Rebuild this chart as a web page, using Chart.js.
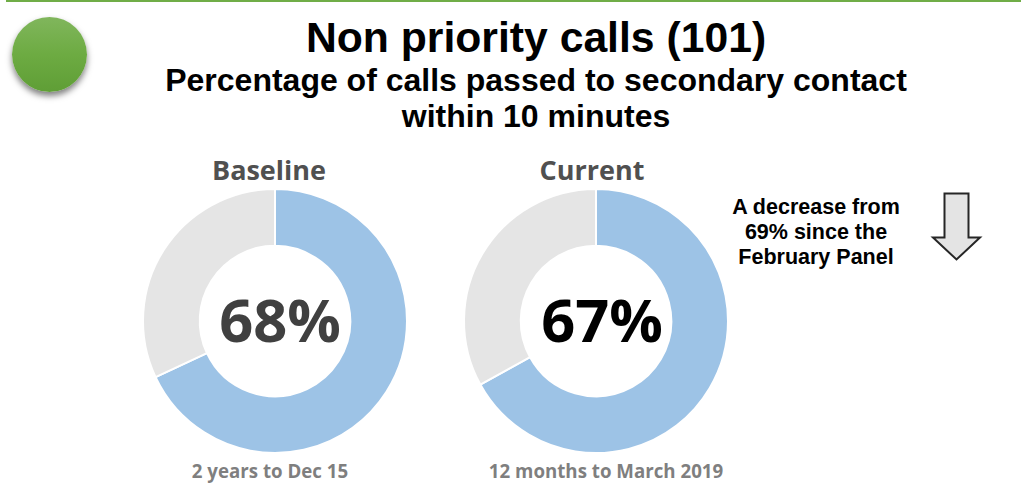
<!DOCTYPE html>
<html><head><meta charset="utf-8">
<script src="https://cdn.jsdelivr.net/npm/chart.js@4/dist/chart.umd.min.js"></script>
<style>
html,body{margin:0;padding:0;background:#fff;width:1021px;height:493px;overflow:hidden}
.t{position:absolute;white-space:nowrap;text-align:center;transform:translateX(-50%)}
.a{font-family:"Liberation Sans",Arial,sans-serif;font-weight:bold;color:#000}
.c{font-family:"Open Sans",sans-serif;font-weight:700}
canvas{position:absolute}
#bar{position:absolute;left:6px;top:0;width:1015px;height:2px;background:#70ad47}
#dot{position:absolute;left:12px;top:17px;width:75px;height:75px;border-radius:50%;
background:linear-gradient(#80b65c,#6dab42 50%,#5f9e36);box-shadow:0 4px 6px rgba(0,0,0,.5)}
svg{position:absolute;left:925px;top:188px}
</style></head><body>
<div id="bar"></div><div id="dot"></div>
<div class="t a" style="left:536px;top:12px;font-size:42.7px;line-height:50px">Non priority calls (101)</div>
<div class="t a" style="left:536px;top:62px;font-size:32px;line-height:36px">Percentage of calls passed to secondary contact<br>within 10 minutes</div>
<div class="t c" style="left:269px;top:153px;font-size:27px;line-height:34px;color:#505050">Baseline</div>
<div class="t c" style="left:592px;top:153px;font-size:27px;line-height:34px;color:#505050">Current</div>
<canvas id="c0" width="270" height="270" style="left:140px;top:186px"></canvas>
<canvas id="c1" width="270" height="270" style="left:461px;top:186px"></canvas>
<div class="t c" style="left:280px;top:279px;font-size:59.5px;line-height:80px;color:#404040">68%</div>
<div class="t c" style="left:602px;top:279px;font-size:59.5px;line-height:80px;color:#000">67%</div>
<div class="t c" style="left:270px;top:459px;font-size:18.7px;line-height:24px;color:#7f7f7f">2 years to Dec 15</div>
<div class="t c" style="left:606px;top:459px;font-size:18.7px;line-height:24px;color:#7f7f7f">12 months to March 2019</div>
<div class="t a" style="left:816px;top:195px;font-size:21.5px;line-height:25px">A decrease from<br>69% since the<br>February Panel</div>
<svg width="64" height="78"><path d="M19.5 5.5H43.5V49.5H55L31.5 71.5L8 49.5H19.5Z" fill="#e4e4e4" stroke="#262626" stroke-width="2"/></svg>
<script>
const categories = ["Within 10 minutes", "Other"];
const baselineValues = [68, 32];
const currentValues = [67, 33];
const sliceColors = ["#9dc3e6", "#e5e5e5"];
function donut(id, values) {
  new Chart(document.getElementById(id), {
    type: "doughnut",
    data: { labels: categories, datasets: [{ data: values, backgroundColor: sliceColors, borderColor: "#fff", borderWidth: 2 }] },
    options: {
      responsive: false, animation: false, cutout: "57%",
      layout: { padding: 2 },
      plugins: { legend: { display: false }, tooltip: { enabled: false } }
    }
  });
}
donut("c0", baselineValues);
donut("c1", currentValues);
</script>
</body></html>
